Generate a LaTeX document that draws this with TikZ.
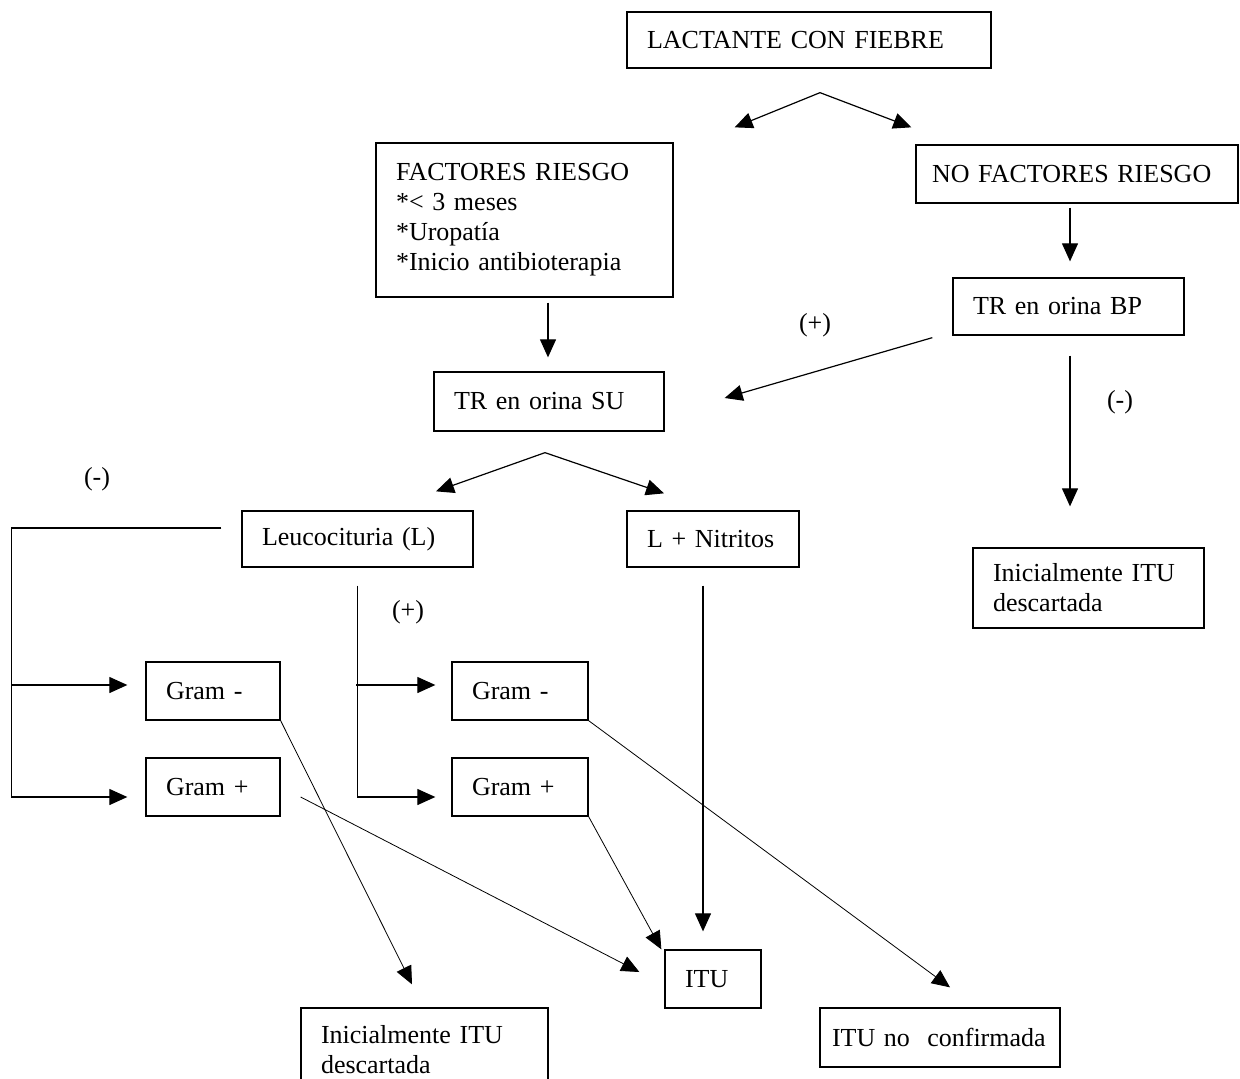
\documentclass[tikz,border=0pt]{standalone}
\usepackage{fontspec}
\setmainfont{Liberation Serif}
\usetikzlibrary{arrows.meta,calc}
\begin{document}
\begin{tikzpicture}[x=1pt,y=-1pt,
  font=\fontsize{26}{30}\selectfont,
  caja/.style={draw,line width=1.3pt,align=left,inner xsep=20pt,inner ysep=0pt},
  flecha/.style={line width=1.2pt,-{Triangle[length=18pt,width=16pt]}},
  signo/.style={inner sep=0pt}]
\useasboundingbox (0,0) rectangle (1240,1079);
\node[caja,text width=324pt,minimum height=56pt] (lact) at (809,40) {LACTANTE CON FIEBRE};
\node[caja,text width=257pt,minimum height=154pt] (fr) at (524.5,220)
  {FACTORES RIESGO\\{*}< 3 meses\\{*}Uropatía\\{*}Inicio antibioterapia};
\node[caja,text width=290pt,inner xsep=16pt,minimum height=58pt] (nofr) at (1077,174) {NO FACTORES RIESGO};
\node[caja,text width=191pt,minimum height=57pt] (bp) at (1068.5,306.5) {TR en orina BP};
\node[caja,text width=190pt,minimum height=59pt] (su) at (549,401.5) {TR en orina SU};
\node[caja,text width=191pt,minimum height=80pt] (descr) at (1088.5,588) {Inicialmente ITU\\descartada};
\node[caja,text width=191pt,minimum height=56pt] (leu) at (357.5,539) {Leucocituria (L)};
\node[caja,text width=132pt,minimum height=56pt] (nit) at (713,539) {L + Nitritos};
\node[caja,text width=94pt,minimum height=58pt] (gml) at (213,691) {Gram -};
\node[caja,text width=94pt,minimum height=58pt] (gpl) at (213,787) {Gram +};
\node[caja,text width=96pt,minimum height=58pt] (gmr) at (520,691) {Gram -};
\node[caja,text width=96pt,minimum height=58pt] (gpr) at (520,787) {Gram +};
\node[caja,text width=56pt,minimum height=58pt] (itu) at (713,979) {ITU};
\node[caja,text width=207pt,minimum height=84pt] (descb) at (424.5,1050) {Inicialmente ITU\\descartada};
\node[caja,text width=216pt,inner xsep=12pt,minimum height=59pt] (noconf) at (940,1037.5) {ITU no~ confirmada};
\node[signo] (bppos) at (815,325) {(+)};
\node[signo] (bpneg) at (1120,402) {(-)};
\node[signo] (leuneg) at (97,479) {(-)};
\node[signo] (leupos) at (408,612) {(+)};
% lactante
\coordinate (lactsplit) at ($(lact.south)+(11,24)$);
\draw[flecha] (lactsplit) -- ($(fr.north east)+(61,-15)$);
\draw[flecha] (lactsplit) -- ($(nofr.north west)+(-4,-17)$);
\draw[flecha] ($(nofr.south)+(-7,4)$) -- ($(bp.north)+(1.5,-16)$);
\draw[flecha] ($(fr.south)+(23.5,5)$) -- ($(su.north)+(-1,-14)$);
\draw[flecha] ($(bp.south west)+(-20,2)$) -- ($(su.east)+(60,-3.5)$);
\draw[flecha] ($(bp.south)+(1.5,20)$) -- ($(descr.north)+(-18.5,-41)$);
% tira reactiva
\coordinate (susplit) at ($(su.south)+(-4,21)$);
\draw[flecha] (susplit) -- ($(leu.north)+(78.5,-19)$);
\draw[flecha] (susplit) -- ($(nit.north)+(-49,-17)$);
\draw[flecha] ($(leu.west)+(-20,-11)$) -| ($(gpl.west)+(-134,10)$) -- ($(gpl.west)+(-18,10)$);
\draw[flecha] ($(gml.west)+(-134,-6)$) -- ($(gml.west)+(-18,-6)$);
\draw[flecha] ($(leu.south)+(0,18)$) |- ($(gpr.west)+(-16,10)$);
\draw[flecha] ($(gmr.west)+(-95,-6)$) -- ($(gmr.west)+(-16,-6)$);
\draw[flecha] ($(nit.south)+(-10,18)$) -- ($(itu.north)+(-10,-18)$);
% gram
\draw[flecha,line width=0.8pt] (gml.south east) -- ($(descb.north)+(-12.5,-23)$);
\draw[flecha,line width=0.8pt] ($(gpl.east)+(20,10)$) -- ($(itu.west)+(-25,-7)$);
\draw[flecha,line width=0.8pt] (gpr.south east) -- ($(itu.north west)+(-3,0)$);
\draw[flecha,line width=0.8pt] (gmr.south east) -- ($(noconf.north)+(10,-20)$);
\end{tikzpicture}
\end{document}
